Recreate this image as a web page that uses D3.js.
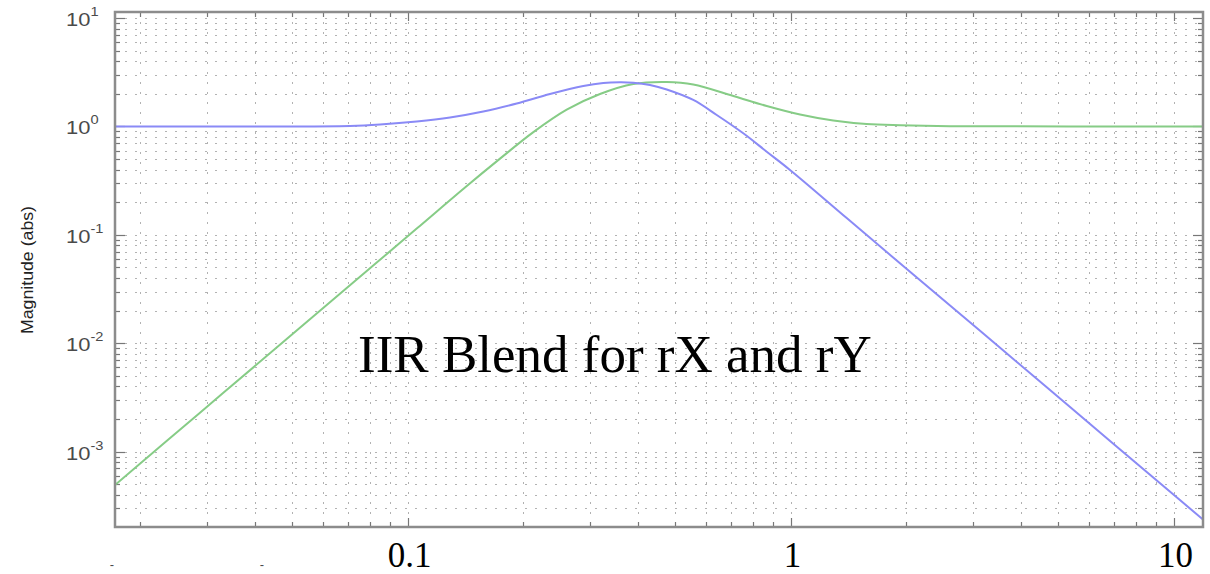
<!doctype html>
<html lang="en">
<head>
  <meta charset="utf-8">
  <title>IIR Blend for rX and rY</title>
  <script src="https://cdn.jsdelivr.net/npm/d3@7"></script>
  <style>
    body { margin: 0; background: #fff; }
    .grid line { stroke: #b2b2b2; stroke-width: 1; stroke-dasharray: 2,8; }
    .ylab { font-family: "Liberation Sans", Arial, sans-serif; fill: #4a4a4a; }
    .xlab { font-family: "Liberation Serif", "Times New Roman", serif; fill: #000; }
  </style>
</head>
<body>
  <div id="chart"></div>

  <script>
    // values (frequency, magnitude abs)
    var blueFreq = [0.01723, 0.0388, 0.07078, 0.08478, 0.1057, 0.1291, 0.1577, 0.1928, 0.2355, 0.2877,
      0.3245, 0.3588, 0.3887, 0.4297, 0.4751, 0.5573, 0.6418, 0.7528, 0.8668, 0.997, 1.402, 2.092,
      3.125, 4.667, 6.963, 9.406, 11.94];
    var blueMag = [1.0, 1.0, 1.011, 1.043, 1.112, 1.211, 1.375, 1.630, 1.994, 2.364,
      2.519, 2.557, 2.535, 2.415, 2.194, 1.756, 1.277, 0.8653, 0.5855, 0.3971, 0.1429, 0.04312,
      0.01302, 0.003928, 0.001185, 0.0004827, 0.0002363];

    var greenFreq = [0.01723, 0.02872, 0.04693, 0.06939, 0.1057, 0.1413, 0.1744, 0.2131, 0.2604, 0.3181,
      0.3887, 0.4751, 0.5573, 0.7093, 0.8668, 1.059, 1.293, 1.581, 1.932, 2.609, 11.94];
    var greenMag = [0.000493, 0.002287, 0.01, 0.03229, 0.1143, 0.2737, 0.505, 0.887, 1.43, 1.994,
      2.466, 2.573, 2.441, 1.911, 1.546, 1.29, 1.136, 1.054, 1.026, 1.006, 1.0];

    // tick labels
    var yTickValues = [1e-3, 1e-2, 1e-1, 1, 10];
    var yTickExp = ["-3", "-2", "-1", "0", "1"];
    var xTickValues = [0.1, 1, 10];
    var xTickLabels = ["0.1", "1", "10"];

    var W = 1210, H = 574;
    var plot = { left: 115, right: 1203, top: 12, bottom: 527 };

    var svg = d3.select("#chart")
      .append("svg")
      .attr("width", W)
      .attr("height", H);

    var x = d3.scaleLog()
      .domain([0.01723, 11.94])
      .range([plot.left, plot.right]);

    var y = d3.scaleLog()
      .domain([Math.pow(10, -3.695), Math.pow(10, 1.056)])
      .range([plot.bottom, plot.top]);

    // all log ticks (major + minor) inside the domain
    var xAll = x.ticks().filter(function (d) { return d >= x.domain()[0] && d <= x.domain()[1]; });
    var yAll = y.ticks().filter(function (d) { return d >= y.domain()[0] && d <= y.domain()[1]; });
    function isMajor(d) { return Math.abs(Math.log10(d) - Math.round(Math.log10(d))) < 1e-6; }

    // dotted grid
    var grid = svg.append("g").attr("class", "grid");
    grid.selectAll("line.gx")
      .data(xAll)
      .enter()
      .append("line")
      .attr("x1", function (d) { return Math.round(x(d)) + 0.5; })
      .attr("x2", function (d) { return Math.round(x(d)) + 0.5; })
      .attr("y1", plot.top)
      .attr("y2", plot.bottom);
    grid.selectAll("line.gy")
      .data(yAll)
      .enter()
      .append("line")
      .attr("x1", plot.left)
      .attr("x2", plot.right)
      .attr("y1", function (d) { return Math.round(y(d)) + 0.5; })
      .attr("y2", function (d) { return Math.round(y(d)) + 0.5; });

    // inward ticks on all four sides
    var ticks = svg.append("g").attr("stroke", "#777").attr("stroke-width", 1.2);
    xAll.forEach(function (d) {
      var len = isMajor(d) ? 9 : 5;
      var px = Math.round(x(d)) + 0.5;
      ticks.append("line").attr("x1", px).attr("x2", px).attr("y1", plot.bottom).attr("y2", plot.bottom - len);
      ticks.append("line").attr("x1", px).attr("x2", px).attr("y1", plot.top).attr("y2", plot.top + len);
    });
    yAll.forEach(function (d) {
      var len = isMajor(d) ? 10 : 5;
      var py = Math.round(y(d)) + 0.5;
      ticks.append("line").attr("x1", plot.left).attr("x2", plot.left + len).attr("y1", py).attr("y2", py);
      ticks.append("line").attr("x1", plot.right).attr("x2", plot.right - len).attr("y1", py).attr("y2", py);
    });

    // the curves
    svg.append("clipPath").attr("id", "clip")
      .append("rect")
      .attr("x", plot.left).attr("y", plot.top)
      .attr("width", plot.right - plot.left).attr("height", plot.bottom - plot.top);

    var line = d3.line()
      .x(function (d) { return x(d[0]); })
      .y(function (d) { return y(d[1]); })
      .curve(d3.curveCatmullRom.alpha(0.5));

    var curves = svg.append("g").attr("clip-path", "url(#clip)");
    curves.append("path")
      .datum(greenFreq.map(function (f, i) { return [f, greenMag[i]]; }))
      .attr("d", line)
      .attr("fill", "none")
      .attr("stroke", "#86cc86")
      .attr("stroke-width", 2);
    curves.append("path")
      .datum(blueFreq.map(function (f, i) { return [f, blueMag[i]]; }))
      .attr("d", line)
      .attr("fill", "none")
      .attr("stroke", "#8a8af6")
      .attr("stroke-width", 2);

    // box
    svg.append("rect")
      .attr("x", plot.left).attr("y", plot.top)
      .attr("width", plot.right - plot.left).attr("height", plot.bottom - plot.top)
      .attr("fill", "none")
      .attr("stroke", "#8c8c8c")
      .attr("stroke-width", 2.5);

    // y tick labels 10^n
    var yl = svg.append("g").attr("class", "ylab");
    yTickValues.forEach(function (d, i) {
      var t = yl.append("text")
        .attr("transform", "translate(66," + (y(d) + 8) + ") scale(1.22,1)")
        .attr("font-size", 18);
      t.append("tspan").text("10");
      t.append("tspan")
        .attr("dy", -10)
        .attr("font-size", 12)
        .text(yTickExp[i]);
    });

    // y axis title
    svg.append("text")
      .attr("class", "ylab")
      .attr("transform", "translate(33,270) rotate(-90)")
      .attr("text-anchor", "middle")
      .attr("font-size", 17)
      .attr("textLength", 128)
      .attr("lengthAdjust", "spacingAndGlyphs")
      .style("fill", "#222")
      .text("Magnitude (abs)");

    // x tick labels
    svg.append("g").selectAll("text")
      .data(xTickValues)
      .enter()
      .append("text")
      .attr("class", "xlab")
      .attr("x", function (d) { return x(d) + 2; })
      .attr("y", 567)
      .attr("text-anchor", "middle")
      .attr("font-size", 35)
      .text(function (d, i) { return xTickLabels[i]; });

    // two stray marks below the axis, as in the picture
    svg.append("g").selectAll("text")
      .data([112, 262])
      .enter()
      .append("text")
      .attr("class", "ylab")
      .attr("x", function (d) { return d; })
      .attr("y", 569)
      .attr("font-size", 13)
      .attr("text-anchor", "middle")
      .text("-");

    // title inside the plot
    svg.append("text")
      .attr("class", "xlab")
      .attr("x", 358)
      .attr("y", 372)
      .attr("font-size", 53)
      .text("IIR Blend for rX and rY");
  </script>
</body>
</html>
